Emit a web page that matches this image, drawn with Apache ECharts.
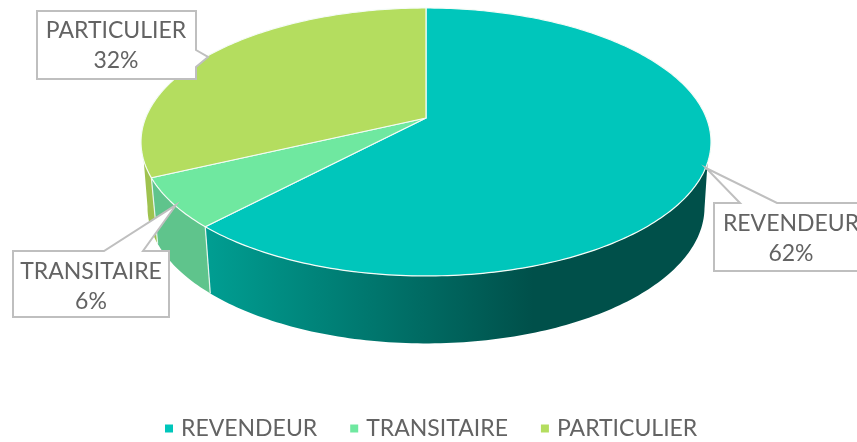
<!DOCTYPE html>
<html><head><meta charset="utf-8">
<style>html,body{margin:0;padding:0;background:#fff}#c{width:857px;height:442px}</style>
<script src="https://cdn.jsdelivr.net/npm/echarts@6/dist/echarts.min.js"></script></head>
<body><div id="c"></div><script>
const categories = ['REVENDEUR','TRANSITAIRE','PARTICULIER'];
const values = [62,6,32];
const topColors = ['#00C6BB','#6FE8A0','#B4DD5F'];
const FONT = 'Lato';
const TOTAL = values.reduce((a,b)=>a+b,0);
const K = 0.179;
const TOP = {cx:426,cy:118,rx:280.4,ry:129.7};
const BOT = {cx:426,cy:183,rx:274,ry:131.7};
const LIM_TOP=[109,252], LIM_BOT=[101,260];
const WALLS = [
  {type:'linear',global:true,x:207,y:0,x2:533,y2:0,colorStops:[{offset:0,color:'#009E92'},{offset:1,color:'#00504A'}]},
  '#5FC48C','#9FC24F'];
const CALLOUTS = [
  {box:[714,203,860,271],ptr:[[777,203],[706,168],[740,203]],side:'top',tx:791,ty:238.5},
  {box:[13,251,169,317],ptr:[[143,251],[176,205],[104,251]],side:'top',tx:91,ty:287},
  {box:[37,11,196,79],ptr:[[196,50],[208,57],[196,67]],side:'right',tx:116,ty:46}
];
function pt(E,deg){const t=deg*Math.PI/180,u=Math.sin(t),v=-Math.cos(t),d=1-K*v;return [E.cx+E.rx*u/d,E.cy+E.ry*v/d];}
function arc(E,a,b){const o=[];const n=Math.max(2,Math.ceil(Math.abs(b-a)));for(let i=0;i<=n;i++)o.push(pt(E,a+(b-a)*i/n));return o;}
function boxPath(c){
  const [x0,y0,x1,y1]=c.box;
  if(c.side==='top') return [[x0,y0],...c.ptr.slice().reverse(),[x1,y0],[x1,y1],[x0,y1]];
  return [[x0,y0],[x1,y0],...c.ptr,[x1,y1],[x0,y1]];
}
function render(idx){return function(params,api){
  const val=api.value(0);
  let before=0;for(let i=0;i<idx;i++)before+=values[i];
  const a=before/TOTAL*360,b=(before+val)/TOTAL*360;
  const ch=[];
  const ta=Math.max(a,LIM_TOP[0]),tb=Math.min(b,LIM_TOP[1]);
  const ba=a<=LIM_TOP[0]?Math.max(a,LIM_BOT[0]):a,bb=b>=LIM_TOP[1]?Math.min(b,LIM_BOT[1]):b;
  if(tb>ta){
    ch.push({type:'polygon',z2:1,shape:{points:arc(TOP,ta,tb).concat(arc(BOT,bb,ba))},style:{fill:WALLS[idx],stroke:null}});
    if(a>=LIM_TOP[0]) ch.push({type:'line',z2:2,shape:{x1:pt(TOP,a)[0],y1:pt(TOP,a)[1],x2:pt(BOT,a)[0],y2:pt(BOT,a)[1]},style:{stroke:'#E8F5EE',lineWidth:1.2}});
  }
  ch.push({type:'polygon',z2:3,shape:{points:[[TOP.cx,TOP.cy]].concat(arc(TOP,a,b))},style:{fill:topColors[idx],stroke:'#F4FBF6',lineWidth:1.2,lineJoin:'round'}});
  const c=CALLOUTS[idx];
  ch.push({type:'polygon',z2:10,shape:{points:boxPath(c)},style:{fill:'#fff',stroke:'#BFBFBF',lineWidth:2}});
  ch.push({type:'text',z2:11,style:{x:c.tx,y:c.ty,text:categories[idx]+'\n'+val+'%',fill:'#636363',font:'23px '+FONT,align:'center',verticalAlign:'middle',lineHeight:30}});
  return {type:'group',children:ch};
};}
const chart=echarts.init(document.getElementById('c'),null,{renderer:'canvas'});
chart.setOption({
  animation:false,backgroundColor:'#fff',
  legend:{data:categories,left:160,top:412,itemWidth:8,itemHeight:8,itemGap:33,icon:'rect',
    textStyle:{fontFamily:FONT,fontSize:23,color:'#636363',padding:[0,0,0,3]}},
  series:categories.map((n,i)=>({name:n,type:'custom',coordinateSystem:'none',silent:true,
    itemStyle:{color:topColors[i]},data:[[values[i]]],renderItem:render(i),clip:false}))
});
</script></body></html>
